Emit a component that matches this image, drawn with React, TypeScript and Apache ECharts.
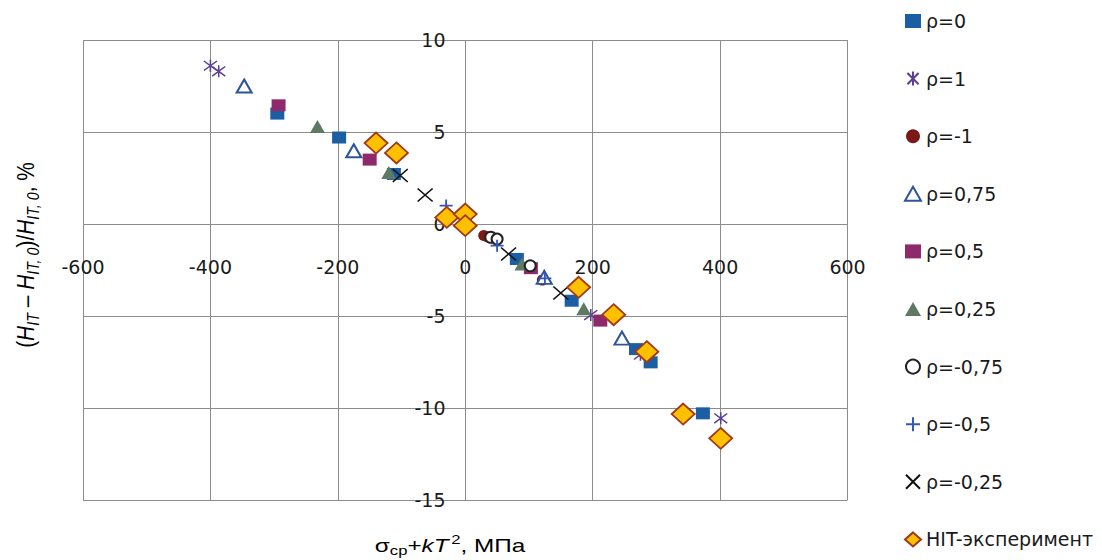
import React, { useEffect, useRef } from "react";
import * as echarts from "echarts";

// ---- data (x = σ_ср + kT², МПа ; y = (H_IT − H_IT,0)/H_IT,0, %) ----
const rho0: number[][] = [[-295, 6.0], [-198, 4.7], [-112, 2.72], [81, -1.9], [167, -4.17], [268, -6.8], [291, -7.52], [373, -10.29]];
const rho1: number[][] = [[-400, 8.6], [-387, 8.3], [197, -4.95], [275, -7.1], [401, -10.56]];
const rhoM1: number[][] = [[29, -0.63], [35, -0.7], [121, -3.05]];
const rho075: number[][] = [[-347, 7.5], [-175, 3.98], [124, -2.9], [246, -6.2]];
const rho05: number[][] = [[-293, 6.45], [-150, 3.5], [103, -2.4], [212, -5.25]];
const rho025: number[][] = [[-232, 5.3], [-120, 2.8], [89, -2.17], [186, -4.6]];
const rhoM075: number[][] = [[40, -0.72], [50, -0.82], [102, -2.27]];
const rhoM05: number[][] = [[-30, 1.0], [50, -1.18], [125, -2.95]];
const rhoM025: number[][] = [[-102, 2.63], [-63, 1.58], [68, -1.63], [150, -3.75]];
const hitExp: number[][] = [[-140, 4.4], [-108, 3.86], [-29, 0.36], [0, 0.54], [0, -0.09], [178, -3.44], [233, -4.93], [285, -6.94], [342, -10.33], [401, -11.65]];

const seriesNames = ["ρ=0", "ρ=1", "ρ=-1", "ρ=0,75", "ρ=0,5", "ρ=0,25", "ρ=-0,75", "ρ=-0,5", "ρ=-0,25", "HIT-эксперимент"];
const seriesData = [rho0, rho1, rhoM1, rho075, rho05, rho025, rhoM075, rhoM05, rhoM025, hitExp];

const xTicks = { min: -600, max: 600, interval: 200 };
const yTicks = { min: -15, max: 10, interval: 5 };

const ASTER = "path://M5,0L5,10M1,1L9,9M9,1L1,9";
const PLUS = "path://M5,0L5,10M0,5L10,5";
const CROSS = "path://M0,0L10,10M10,0L0,10";

const styles = [
  { symbol: "rect", size: [14, 12], itemStyle: { color: "#1B5EA3" } },
  { symbol: ASTER, size: [13, 12], itemStyle: { color: "#5B3F96", borderColor: "#5B3F96", borderWidth: 1.5 } },
  { symbol: "circle", size: [11, 11], itemStyle: { color: "#7B1818" } },
  { symbol: "emptyTriangle", size: [15, 13], itemStyle: { color: "#2E5597", borderColor: "#2E5597", borderWidth: 1.5 } },
  { symbol: "rect", size: [14, 12], itemStyle: { color: "#8E2A6B" } },
  { symbol: "triangle", size: [15, 13], itemStyle: { color: "#5E7A62" } },
  { symbol: "emptyCircle", size: [11, 11], itemStyle: { color: "#222222", borderColor: "#222222", borderWidth: 1.5 } },
  { symbol: PLUS, size: [13, 12], itemStyle: { color: "#3557B5", borderColor: "#3557B5", borderWidth: 1.8 } },
  { symbol: CROSS, size: [15, 13], itemStyle: { color: "#111111", borderColor: "#111111", borderWidth: 1.5 } },
  { symbol: "diamond", size: [23, 21], itemStyle: { color: "#FFC000", borderColor: "#A0391A", borderWidth: 1.8 } },
];

const TXT = "#1a1a1a";
const GRID = "#8c8c8c";

export default function App() {
  const ref = useRef<HTMLDivElement>(null);
  useEffect(() => {
    if (!ref.current) return;
    const chart = echarts.init(ref.current, undefined, { renderer: "svg" });
    const nameRich = {
      n: { fontSize: 19, lineHeight: 24, fontFamily: "Liberation Sans", color: TXT },
      i: { fontSize: 19, lineHeight: 24, fontFamily: "Liberation Sans", fontStyle: "italic", color: TXT },
      s: { fontSize: 13, lineHeight: 12, verticalAlign: "bottom", fontFamily: "Liberation Sans", color: TXT },
      si: { fontSize: 13, lineHeight: 12, verticalAlign: "bottom", fontFamily: "Liberation Sans", fontStyle: "italic", color: TXT },
      p: { fontSize: 13, lineHeight: 12, verticalAlign: "top", fontFamily: "Liberation Sans", color: TXT, padding: [0, 0, 0, 2] },
    };
    chart.setOption({
      animation: false,
      backgroundColor: "#ffffff",
      grid: { left: 83, right: 254.5, top: 40, bottom: 60, containLabel: false },
      xAxis: {
        type: "value",
        position: "bottom",
        offset: -275,
        min: xTicks.min,
        max: xTicks.max,
        interval: xTicks.interval,
        axisLine: { show: false, onZero: false },
        axisTick: { show: false },
        axisLabel: { margin: 32, fontSize: 19, fontFamily: "DejaVu Sans", color: TXT },
        splitLine: { show: true, lineStyle: { color: GRID, width: 1 } },
      },
      yAxis: {
        type: "value",
        position: "left",
        offset: -382.5,
        min: yTicks.min,
        max: yTicks.max,
        interval: yTicks.interval,
        axisLine: { show: false, onZero: false },
        axisTick: { show: false },
        axisLabel: { margin: 20, fontSize: 19, fontFamily: "DejaVu Sans", color: TXT },
        splitLine: { show: true, lineStyle: { color: GRID, width: 1 } },
      },
      legend: {
        orient: "vertical",
        left: 899,
        top: 6,
        itemWidth: 16,
        itemHeight: 14,
        itemGap: 37.6,
        selectedMode: false,
        textStyle: { fontSize: 19, lineHeight: 20, fontFamily: "DejaVu Sans", color: TXT },
        data: seriesNames,
      },
      series: seriesNames.map((name, k) => ({
        name,
        type: "scatter",
        data: seriesData[k],
        symbol: styles[k].symbol,
        symbolSize: styles[k].size,
        itemStyle: { ...styles[k].itemStyle, opacity: 1 },
        z: 2 + k,
      })),
      graphic: [
        {
          type: "text",
          x: 450,
          y: 545,
          scaleX: 1.28,
          style: {
            text: "{n|σ}{s|ср}{n|+}{i|kT}{p|2}{n|, МПа}",
            rich: nameRich,
            align: "center",
            verticalAlign: "middle",
          },
        },
        {
          type: "text",
          x: 26,
          y: 255,
          rotation: Math.PI / 2,
          scaleX: 1.1,
          scaleY: 1.25,
          style: {
            text: "{n|(}{i|H}{si|IT}{n| – }{i|H}{si|IT, 0}{n|)/}{i|H}{si|IT, 0}{n|, %}",
            rich: nameRich,
            align: "center",
            verticalAlign: "middle",
          },
        },
      ],
    });
    return () => chart.dispose();
  }, []);
  return <div ref={ref} style={{ position: "fixed", left: 0, top: 0, width: 1102, height: 560 }} />;
}
